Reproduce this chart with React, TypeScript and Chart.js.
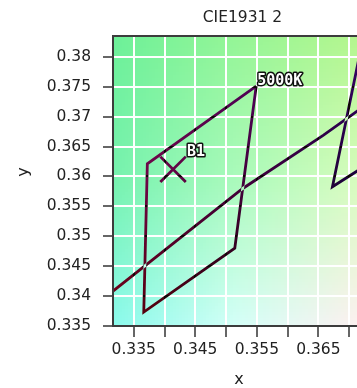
import React, { useEffect, useRef } from "react";
import { Chart, registerables } from "chart.js";

Chart.register(...registerables);

// ---- text ----
const TITLE = "CIE1931 2";
const X_TITLE = "x";
const Y_TITLE = "y";

// ---- axis ranges / ticks ----
const X_MIN = 0.33163;
const X_MAX = 0.38155;
const Y_MIN = 0.335;
const Y_MAX = 0.38347;
const TICK_STEP = 0.005;
const X_LABELED_TICKS = [0.335, 0.345, 0.355, 0.365];

// ---- long locus line ----
const LOCUS_X = [0.3295, 0.33163, 0.35266, 0.36578, 0.37131, 0.38155];
const LOCUS_Y = [0.3391, 0.34084, 0.35794, 0.36686, 0.37092, 0.37828];

// ---- 5000K quadrangle ----
const BIN_5000K_NAME = "5000K";
const BIN_5000K_X = [0.3549, 0.33721, 0.33663, 0.35142, 0.3549];
const BIN_5000K_Y = [0.3751, 0.36212, 0.33733, 0.348, 0.3751];

// ---- neighbouring quadrangle (right, mostly off view) ----
const BIN_RIGHT_X = [0.37355, 0.36729, 0.38318, 0.3871, 0.37355];
const BIN_RIGHT_Y = [0.38948, 0.35827, 0.36865, 0.3959, 0.38948];

// ---- measured point ----
const POINT_NAME = "B1";
const POINT_X = [0.34139];
const POINT_Y = [0.36118];

// background colour field (styles): rows top->bottom, cols left->right
const BG_GRID = [
  [[108, 240, 152], [148, 245, 150], [180, 246, 142]],
  [[118, 242, 175], [170, 250, 188], [215, 252, 190]],
  [[138, 250, 236], [212, 255, 248], [252, 240, 240]],
];

const LINE_SRC = "rgb(240,250,248)";

function pts(xs: number[], ys: number[]) {
  return xs.map((x, i) => ({ x, y: ys[i] }));
}

function lerp(a: number, b: number, t: number) {
  return a + (b - a) * t;
}

function bgColor(u: number, v: number) {
  const gu = Math.min(Math.max(u, 0), 1) * 2;
  const gv = Math.min(Math.max(v, 0), 1) * 2;
  const i = Math.min(Math.floor(gv), 1);
  const j = Math.min(Math.floor(gu), 1);
  const tu = gu - j;
  const tv = gv - i;
  const c: number[] = [];
  for (let k = 0; k < 3; k++) {
    const top = lerp(BG_GRID[i][j][k], BG_GRID[i][j + 1][k], tu);
    const bot = lerp(BG_GRID[i + 1][j][k], BG_GRID[i + 1][j + 1][k], tu);
    c.push(Math.round(lerp(top, bot, tv)));
  }
  return `rgb(${c[0]},${c[1]},${c[2]})`;
}

const FONT = '"DejaVu Sans", sans-serif';

const decoPlugin = {
  id: "deco",
  beforeDraw(chart: any) {
    const { ctx, chartArea: a } = chart;
    const x1 = 357;
    const cell = 3;
    ctx.save();
    for (let py = a.top; py < a.bottom; py += cell) {
      for (let px = a.left; px < a.right; px += cell) {
        const u = (px + cell / 2 - a.left) / (x1 - a.left);
        const v = (py + cell / 2 - a.top) / (a.bottom - a.top);
        ctx.fillStyle = bgColor(u, v);
        ctx.fillRect(px, py, cell, cell);
      }
    }
    ctx.restore();
  },
  beforeDatasetsDraw(chart: any) {
    chart.ctx.save();
    chart.ctx.globalCompositeOperation = "difference";
  },
  afterDatasetsDraw(chart: any) {
    const ctx = chart.ctx;
    ctx.restore();
    const xs = chart.scales.x;
    const ys = chart.scales.y;
    const tag = (text: string, x: number, y: number) => {
      ctx.save();
      ctx.font = 'bold 15px "DejaVu Sans Mono", monospace';
      ctx.textAlign = "left";
      ctx.textBaseline = "alphabetic";
      ctx.lineJoin = "round";
      ctx.lineWidth = 3;
      ctx.strokeStyle = "#111";
      ctx.strokeText(text, x, y);
      ctx.fillStyle = "#fff";
      ctx.fillText(text, x, y);
      ctx.restore();
    };
    tag(BIN_5000K_NAME, xs.getPixelForValue(BIN_5000K_X[0]) + 1, ys.getPixelForValue(BIN_5000K_Y[0]) - 1);
    tag(POINT_NAME, xs.getPixelForValue(POINT_X[0]) + 14, ys.getPixelForValue(POINT_Y[0]) - 13);
  },
  afterDraw(chart: any) {
    const { ctx, chartArea: a } = chart;
    ctx.save();
    ctx.strokeStyle = "#3c3c3c";
    ctx.lineWidth = 2;
    ctx.beginPath();
    ctx.moveTo(a.right + 2, a.top);
    ctx.lineTo(a.left, a.top);
    ctx.lineTo(a.left, a.bottom);
    ctx.lineTo(a.right + 2, a.bottom);
    ctx.stroke();

    ctx.fillStyle = "#222";
    ctx.font = `15.5px ${FONT}`;
    ctx.textAlign = "center";
    ctx.textBaseline = "alphabetic";
    ctx.fillText(TITLE, a.left + 129.5, 22);

    ctx.font = `16px ${FONT}`;
    ctx.fillText(X_TITLE, a.left + 126, 384);

    ctx.translate(28, 172);
    ctx.rotate(-Math.PI / 2);
    ctx.fillText(Y_TITLE, 0, 0);
    ctx.restore();
  },
};

function fmt(v: number) {
  return String(parseFloat(v.toFixed(3)));
}

const CANVAS_W = 441;
const CANVAS_H = 388;

export default function App() {
  const ref = useRef<HTMLCanvasElement>(null);
  useEffect(() => {
    const canvas = ref.current;
    if (!canvas) return;
    const lineDs = (data: any[]) => ({
      data,
      showLine: true,
      borderColor: LINE_SRC,
      backgroundColor: LINE_SRC,
      borderWidth: 2.8,
      pointRadius: 0,
      fill: false,
      tension: 0,
    });
    const chart = new Chart(canvas, {
      type: "scatter",
      data: {
        datasets: [
          lineDs(pts(LOCUS_X, LOCUS_Y)),
          lineDs(pts(BIN_5000K_X, BIN_5000K_Y)),
          lineDs(pts(BIN_RIGHT_X, BIN_RIGHT_Y)),
          {
            data: pts(POINT_X, POINT_Y),
            showLine: false,
            pointStyle: "crossRot",
            pointRadius: 18,
            borderWidth: 2.8,
            borderColor: LINE_SRC,
            backgroundColor: LINE_SRC,
          } as any,
        ],
      },
      options: {
        animation: false,
        responsive: false,
        devicePixelRatio: 1,
        layout: { padding: { top: 36, left: 0, right: 0, bottom: 0 } },
        plugins: {
          legend: { display: false },
          title: { display: false },
          tooltip: { enabled: false },
        },
        scales: {
          x: {
            type: "linear",
            min: X_MIN,
            max: X_MAX,
            afterFit: (s: any) => {
              s.height = 62;
              s.paddingLeft = 0;
              s.paddingRight = 0;
            },
            border: { display: false },
            grid: {
              color: "#ffffff",
              lineWidth: 2,
              tickColor: "#333",
              tickWidth: 1.5,
              tickLength: 11,
            },
            ticks: {
              stepSize: TICK_STEP,
              includeBounds: false,
              autoSkip: false,
              maxRotation: 0,
              padding: 4,
              color: "#222",
              font: { family: FONT, size: 15.5 },
              callback: (v: any) => {
                const n = Number(v);
                return X_LABELED_TICKS.some((t) => Math.abs(t - n) < 1e-6) ? fmt(n) : "";
              },
            },
          },
          y: {
            type: "linear",
            min: Y_MIN,
            max: Y_MAX,
            afterFit: (s: any) => {
              s.width = 113;
              s.paddingTop = 0;
              s.paddingBottom = 0;
            },
            border: { display: false },
            grid: {
              color: "#ffffff",
              lineWidth: 2,
              tickColor: "#333",
              tickWidth: 1.5,
              tickLength: 10,
            },
            ticks: {
              stepSize: TICK_STEP,
              includeBounds: false,
              padding: 12,
              color: "#222",
              font: { family: FONT, size: 15.5 },
              callback: (v: any) => fmt(Number(v)),
            },
          },
        },
      },
      plugins: [decoPlugin],
    });
    return () => chart.destroy();
  }, []);
  return (
    <div
      style={{
        position: "fixed",
        left: 0,
        top: 0,
        width: 357,
        height: 388,
        overflow: "hidden",
        background: "#fff",
      }}
    >
      <canvas
        ref={ref}
        width={CANVAS_W}
        height={CANVAS_H}
        style={{ display: "block", width: CANVAS_W, height: CANVAS_H }}
      />
    </div>
  );
}
